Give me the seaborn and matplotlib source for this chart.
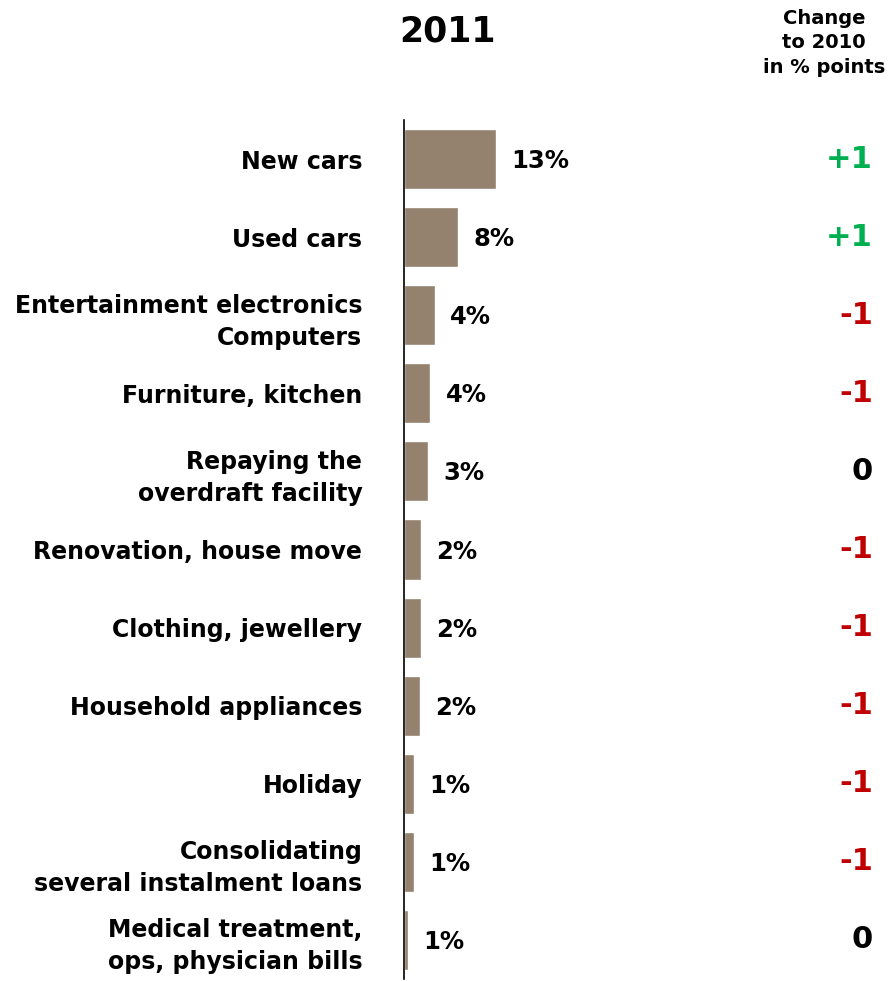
import matplotlib
matplotlib.use("Agg")
import matplotlib.pyplot as plt
import matplotlib.transforms as mtransforms
import seaborn as sns
import pandas as pd

# Purposes of instalment loans, share of respondents in 2011
categories = [
    "New cars",
    "Used cars",
    "Entertainment electronics\nComputers",
    "Furniture, kitchen",
    "Repaying the\noverdraft facility",
    "Renovation, house move",
    "Clothing, jewellery",
    "Household appliances",
    "Holiday",
    "Consolidating\nseveral instalment loans",
    "Medical treatment,\nops, physician bills",
]
share_2011 = [13.0, 7.6, 4.4, 3.7, 3.4, 2.4, 2.4, 2.3, 1.4, 1.4, 0.6]
change_vs_2010 = [1, 1, -1, -1, 0, -1, -1, -1, -1, -1, 0]

BAR_COLOR = "#94826F"
UP_COLOR = "#00B050"
DOWN_COLOR = "#C00000"

sns.set_style("white")
plt.rcParams["font.family"] = ["DejaVu Sans"]
plt.rcParams["font.weight"] = "bold"
plt.rcParams["text.color"] = "black"
plt.rcParams["ytick.color"] = "black"
plt.rcParams["ytick.labelcolor"] = "black"

W, H = 889, 981
fig = plt.figure(figsize=(W / 100, H / 100), dpi=100)
ax_left, ax_right = 404 / W, 1.0
ax_top, ax_bottom = 1 - 120 / H, 1 - 979 / H
ax = fig.add_axes([ax_left, ax_bottom, ax_right - ax_left, ax_top - ax_bottom])

df = pd.DataFrame({"category": categories, "share": share_2011})
sns.barplot(data=df, x="share", y="category", orient="h", color=BAR_COLOR,
            saturation=1, width=0.77, ax=ax)

px_per_unit = 92 / 13.0
ax.set_xlim(0, (W - 404) / px_per_unit)
ax.set_ylim(len(categories) - 0.5, -0.5)

for side in ("top", "right", "bottom"):
    ax.spines[side].set_visible(False)
ax.spines["left"].set_color("black")
ax.spines["left"].set_linewidth(1.2)
ax.set_xticks([])
ax.set_xlabel("")
ax.set_ylabel("")
ax.tick_params(axis="y", length=0, pad=30)
ax.set_yticks(range(len(categories)))
ax.set_yticklabels(categories, fontsize=17, fontweight="bold", color="black",
                   ha="right", multialignment="right", linespacing=1.42)

# value labels next to each bar
for i, v in enumerate(share_2011):
    ax.annotate(f"{v:.0f}%", xy=(v, i), xytext=(11, -1.5),
                textcoords="offset points", ha="left", va="center",
                fontsize=17.5, fontweight="bold", color="black")

# change column
trans = mtransforms.blended_transform_factory(fig.transFigure, ax.transData)
for i, c in enumerate(change_vs_2010):
    if c > 0:
        txt, col = f"+{c}", UP_COLOR
    elif c < 0:
        txt, col = f"-{abs(c)}", DOWN_COLOR
    else:
        txt, col = "0", "black"
    ax.text(873 / W, i, txt, transform=trans, ha="right", va="center",
            fontsize=22, fontweight="bold", color=col, clip_on=False)

# headers
fig.text(447 / W, 1 - 31 / H, "2011", ha="center", va="center",
         fontsize=25, fontweight="bold", color="black")
fig.text(824 / W, 1 - 43 / H, "Change\nto 2010\nin % points", ha="center",
         va="center", fontsize=14, fontweight="bold", linespacing=1.37,
         color="black")

fig.savefig("out.png", dpi=100)
